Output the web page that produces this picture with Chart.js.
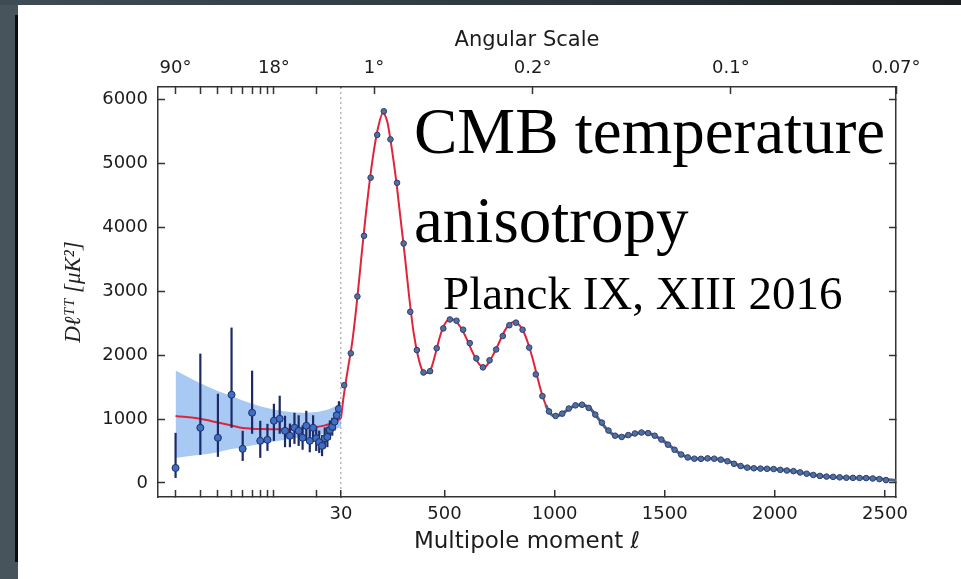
<!DOCTYPE html>
<html>
<head>
<meta charset="utf-8">
<title>CMB temperature anisotropy</title>
<script src="https://cdn.jsdelivr.net/npm/chart.js@4.4.1/dist/chart.umd.min.js"></script>
<style>
  html, body { margin: 0; padding: 0; }
  body { width: 961px; height: 579px; background: #47545c; position: relative; overflow: hidden; }
  #bandeau { position: absolute; left: 0; top: 0; width: 961px; height: 5px; background: linear-gradient(to right, #3e4c55, #2c363c 60%, #1a1e21); }
  #filet { position: absolute; left: 15px; top: 15px; width: 3px; height: 547px; background: #0d0d0d; }
  #panneau { position: absolute; left: 18px; top: 5px; right: 0; bottom: 0; background: #fff; }
  #grafico { position: absolute; left: 0; top: 0; }
</style>
</head>
<body>
<div id="bandeau"></div>
<div id="filet"></div>
<div id="panneau"></div>
<canvas id="grafico" width="961" height="579"></canvas>
<script>
// multipolos individuais, 2 <= l < 30 (eixo log)
const ellBaixo = [2, 3, 4, 5, 6, 7, 8, 9, 10, 11, 12, 13, 14, 15, 16, 17, 18, 19, 20, 21, 22, 23, 24, 25, 26, 27, 28, 29];
const dBaixo = [235, 864, 707, 1381, 534, 1099, 659, 675, 973, 1005, 816, 738, 864, 816, 707, 895, 659, 864, 700, 640, 580, 700, 720, 830, 880, 960, 1060, 1160];
const erroInf = [78, 440, 408, 864, 345, 770, 393, 502, 659, 770, 560, 560, 612, 580, 520, 660, 480, 640, 500, 470, 420, 540, 560, 680, 740, 820, 930, 1040];
const erroSup = [785, 2025, 1397, 2433, 816, 1758, 973, 926, 1240, 1366, 1052, 930, 1099, 1060, 900, 1130, 840, 1060, 880, 820, 750, 870, 880, 980, 1020, 1100, 1190, 1280];

// espectro em bandas de 30 multipolos (eixo linear)
const ellAlto = [44.5, 74.5, 104.5, 134.5, 164.5, 194.5, 224.5, 254.5, 284.5, 314.5, 344.5, 374.5, 404.5, 434.5, 464.5, 494.5, 524.5, 554.5, 584.5, 614.5, 644.5, 674.5, 704.5, 734.5, 764.5, 794.5, 824.5, 854.5, 884.5, 914.5, 944.5, 974.5, 1004.5, 1034.5, 1064.5, 1094.5, 1124.5, 1154.5, 1184.5, 1214.5, 1244.5, 1274.5, 1304.5, 1334.5, 1364.5, 1394.5, 1424.5, 1454.5, 1484.5, 1514.5, 1544.5, 1574.5, 1604.5, 1634.5, 1664.5, 1694.5, 1724.5, 1754.5, 1784.5, 1814.5, 1844.5, 1874.5, 1904.5, 1934.5, 1964.5, 1994.5, 2024.5, 2054.5, 2084.5, 2114.5, 2144.5, 2174.5, 2204.5, 2234.5, 2264.5, 2294.5, 2324.5, 2354.5, 2384.5, 2414.5, 2444.5, 2474.5, 2504.5];
const dAlto = [1530, 2030, 2920, 3870, 4780, 5450, 5820, 5380, 4700, 3750, 2680, 2080, 1730, 1750, 2110, 2420, 2560, 2540, 2400, 2190, 1950, 1810, 1920, 2090, 2300, 2470, 2510, 2400, 2120, 1700, 1360, 1120, 1050, 1085, 1165, 1215, 1225, 1175, 1070, 945, 820, 740, 720, 750, 775, 790, 780, 740, 680, 600, 520, 445, 400, 380, 378, 385, 380, 365, 340, 300, 265, 240, 230, 225, 222, 218, 205, 195, 185, 165, 145, 125, 110, 100, 95, 88, 82, 80, 78, 76, 70, 60, 45];

// modelo LCDM de melhor ajuste
const ellModeloBaixo = [2, 3, 4, 5, 6, 7, 8, 10, 12, 15, 20, 25, 30];
const dModeloBaixo = [1050, 1005, 945, 900, 860, 850, 845, 840, 840, 850, 875, 925, 1010];
const ellModeloAlto = [30, 40, 60, 80, 100, 120, 140, 160, 180, 200, 220, 240, 260, 280, 300, 320, 340, 360, 380, 400, 420, 440, 460, 480, 500, 520, 540, 560, 580, 600, 620, 640, 660, 680, 700, 720, 740, 760, 780, 800, 820, 840, 860, 880, 900, 920, 940, 960, 980, 1000, 1020, 1040, 1080, 1120, 1160, 1200, 1240, 1280, 1320, 1360, 1400, 1440, 1480, 1520, 1560, 1600, 1640, 1700, 1760, 1800, 1840, 1880, 1940, 2000, 2060, 2100, 2160, 2220, 2280, 2340, 2400, 2450, 2500, 2550];
const dModeloAlto = [1010, 1300, 1760, 2180, 2760, 3450, 4120, 4720, 5220, 5590, 5790, 5660, 5250, 4750, 4150, 3550, 2900, 2350, 1980, 1760, 1720, 1800, 2040, 2300, 2480, 2560, 2560, 2500, 2400, 2260, 2100, 1960, 1850, 1810, 1880, 2000, 2140, 2290, 2420, 2500, 2520, 2470, 2360, 2180, 1950, 1680, 1420, 1220, 1090, 1050, 1060, 1100, 1190, 1225, 1170, 1000, 830, 735, 730, 765, 790, 765, 690, 590, 480, 405, 378, 383, 362, 325, 270, 238, 225, 215, 195, 175, 135, 105, 90, 82, 77, 72, 55, 40];

// faixa de variância cósmica
const ellFaixa = [2, 3, 4, 5, 6, 8, 10, 13, 16, 20, 25, 30];
const faixaSup = [1760, 1560, 1440, 1360, 1290, 1200, 1150, 1110, 1100, 1110, 1160, 1250];
const faixaInf = [390, 440, 480, 530, 560, 610, 650, 690, 710, 740, 800, 880];

// marcas dos eixos
const ticksLog = [2, 3, 4, 5, 6, 7, 8, 9, 10, 20];
const ticksLinear = [30, 500, 1000, 1500, 2000, 2500];
const ticksY = [0, 1000, 2000, 3000, 4000, 5000, 6000];
const ticksAngLog = [2, 10];
const rotulosAngLog = ["90°", "18°"];
const ticksAngLinear = [180, 900, 1800, 2550];
const rotulosAngLinear = ["1°", "0.2°", "0.1°", "0.07°"];

const COR_EIXO = "#333";
const COR_MODELO = "#e0243a";

function pares(xs, ys) {
  return xs.map((x, i) => ({ x: x, y: ys[i] }));
}

function fixarTicks(valores) {
  return (eixo) => {
    eixo.ticks = valores.map((v) => ({ value: v }));
  };
}

function gradeBase() {
  return { drawOnChartArea: false, tickLength: -7, tickColor: COR_EIXO, tickWidth: 1.5 };
}

// barras de erro dos multipolos baixos, desenhadas antes dos pontos
const barrasDeErro = {
  id: "barrasDeErro",
  beforeDatasetDraw(chart, args) {
    if (args.index !== 0) return;
    const { ctx } = chart;
    const ex = chart.scales.xLog;
    const ey = chart.scales.y;
    ctx.save();
    ctx.strokeStyle = "#1c2a66";
    ctx.lineWidth = 2.2;
    ellBaixo.forEach((ell, i) => {
      const px = ex.getPixelForValue(ell);
      ctx.beginPath();
      ctx.moveTo(px, ey.getPixelForValue(erroInf[i]));
      ctx.lineTo(px, ey.getPixelForValue(erroSup[i]));
      ctx.stroke();
    });
    ctx.restore();
  },
};

const anotacoes = {
  id: "anotacoes",
  afterDraw(chart) {
    const { ctx } = chart;
    ctx.save();
    ctx.fillStyle = "#000";
    ctx.textBaseline = "alphabetic";
    ctx.font = '65px "Liberation Serif"';
    ctx.fillText("CMB temperature", 414, 153);
    ctx.fillText("anisotropy", 414, 242);
    ctx.font = '47px "Liberation Serif"';
    ctx.fillText("Planck IX, XIII 2016", 443, 309);
    ctx.restore();
  },
};

function criarGrafico() {
  Chart.defaults.font.family = '"DejaVu Sans", sans-serif';
  Chart.defaults.color = "#1c1c1c";

  const ctx = document.getElementById("grafico").getContext("2d");

  new Chart(ctx, {
    type: "line",
    data: {
      datasets: [
        {
          data: pares(ellBaixo, dBaixo),
          xAxisID: "xLog",
          yAxisID: "y",
          showLine: false,
          pointRadius: 3.5,
          pointBackgroundColor: "#3f6fc2",
          pointBorderColor: "#1c2d6a",
          pointBorderWidth: 1,
          order: 0,
        },
        {
          data: pares(ellAlto, dAlto),
          xAxisID: "xLin",
          yAxisID: "y",
          showLine: false,
          pointRadius: 2.8,
          pointBackgroundColor: "#52709f",
          pointBorderColor: "#2c3e70",
          pointBorderWidth: 1,
          order: 0,
        },
        {
          data: pares(ellModeloBaixo, dModeloBaixo),
          xAxisID: "xLog",
          yAxisID: "y",
          borderColor: COR_MODELO,
          borderWidth: 2,
          pointRadius: 0,
          cubicInterpolationMode: "monotone",
          order: 1,
        },
        {
          data: pares(ellModeloAlto, dModeloAlto),
          xAxisID: "xLin",
          yAxisID: "y",
          borderColor: COR_MODELO,
          borderWidth: 2,
          pointRadius: 0,
          cubicInterpolationMode: "monotone",
          // acima de l ~ 960 a curva fica coberta pelas barras dos dados
          segment: {
            borderColor: (c) => (c.p0.parsed.x >= 960 ? "#4f6288" : COR_MODELO),
            borderWidth: (c) => (c.p0.parsed.x >= 960 ? 3 : 2),
          },
          order: 1,
        },
        {
          data: pares(ellFaixa, faixaSup),
          xAxisID: "xLog",
          yAxisID: "y",
          borderColor: "transparent",
          backgroundColor: "rgba(110, 165, 235, 0.6)",
          fill: "+1",
          pointRadius: 0,
          cubicInterpolationMode: "monotone",
          order: 2,
        },
        {
          data: pares(ellFaixa, faixaInf),
          xAxisID: "xLog",
          yAxisID: "y",
          borderColor: "transparent",
          fill: false,
          pointRadius: 0,
          cubicInterpolationMode: "monotone",
          order: 3,
        },
      ],
    },
    options: {
      responsive: false,
      animation: false,
      events: [],
      layout: { padding: { left: 18, top: 5, right: 0, bottom: 0 } },
      plugins: {
        legend: { display: false },
        tooltip: { enabled: false },
        title: {
          display: true,
          text: "Angular Scale",
          position: "top",
          fullSize: false,
          color: "#1c1c1c",
          font: { size: 21, weight: "normal", lineHeight: "24px" },
          padding: { top: 24, bottom: 4 },
        },
        subtitle: {
          display: true,
          text: "Multipole moment ℓ",
          position: "bottom",
          fullSize: false,
          color: "#1c1c1c",
          font: { size: 23, weight: "normal", lineHeight: "26px" },
          padding: { top: 2, bottom: 24 },
        },
      },
      scales: {
        y: {
          type: "linear",
          position: "left",
          min: -220,
          max: 6200,
          afterBuildTicks: fixarTicks(ticksY),
          afterFit: (e) => { e.width = 140; },
          ticks: { padding: 17, font: { size: 18 }, callback: (v) => String(v) },
          grid: gradeBase(),
          border: { color: COR_EIXO, width: 1.5 },
          title: {
            display: true,
            text: "Dℓᵀᵀ [μK²]",
            color: "#222",
            font: { family: '"Liberation Serif", serif', style: "italic", size: 23, lineHeight: 1 },
            padding: 44,
          },
        },
        yR: {
          type: "linear",
          position: "right",
          min: -220,
          max: 6200,
          afterBuildTicks: fixarTicks(ticksY),
          afterFit: (e) => { e.width = 65; },
          ticks: { callback: () => "" },
          grid: gradeBase(),
          border: { color: COR_EIXO, width: 1.5 },
        },
        xLog: {
          type: "logarithmic",
          position: "bottom",
          stack: "baixo",
          stackWeight: 183,
          min: 1.5,
          max: 30,
          afterBuildTicks: fixarTicks(ticksLog),
          afterFit: (e) => { e.height = 30; },
          ticks: { autoSkip: false, maxRotation: 0, callback: () => "" },
          grid: gradeBase(),
          border: { color: COR_EIXO, width: 1.5 },
        },
        xLin: {
          type: "linear",
          position: "bottom",
          stack: "baixo",
          stackWeight: 555,
          min: 30,
          max: 2550,
          afterBuildTicks: fixarTicks(ticksLinear),
          afterFit: (e) => { e.height = 30; },
          ticks: { autoSkip: false, maxRotation: 0, padding: 14, font: { size: 18 }, callback: (v) => String(v) },
          grid: {
            drawOnChartArea: true,
            color: (c) => (c.tick && c.tick.value === 30 ? "#b8b8b8" : "transparent"),
            lineWidth: 1.5,
            tickLength: -7,
            tickColor: COR_EIXO,
            tickWidth: 1.5,
          },
          border: { color: COR_EIXO, width: 1.5, dash: [2, 3] },
        },
        xLinTop: {
          type: "linear",
          position: "top",
          stack: "topo",
          stackWeight: 555,
          weight: 0,
          min: 30,
          max: 2550,
          afterBuildTicks: fixarTicks(ticksAngLinear),
          afterFit: (e) => { e.height = 30; },
          ticks: {
            autoSkip: false,
            maxRotation: 0,
            padding: 15,
            font: { size: 18 },
            callback: (v) => rotulosAngLinear[ticksAngLinear.indexOf(v)] || "",
          },
          grid: gradeBase(),
          border: { color: COR_EIXO, width: 1.5 },
        },
        xLogTop: {
          type: "logarithmic",
          position: "top",
          stack: "topo",
          stackWeight: 183,
          weight: 1,
          min: 1.5,
          max: 30,
          afterBuildTicks: fixarTicks(ticksLog),
          afterFit: (e) => { e.height = 30; },
          ticks: {
            autoSkip: false,
            maxRotation: 0,
            padding: 15,
            font: { size: 18 },
            callback: (v) => rotulosAngLog[ticksAngLog.indexOf(v)] || "",
          },
          grid: gradeBase(),
          border: { color: COR_EIXO, width: 1.5 },
        },
      },
    },
    plugins: [barrasDeErro, anotacoes],
  });
}

document.addEventListener("DOMContentLoaded", criarGrafico);
</script>
</body>
</html>
